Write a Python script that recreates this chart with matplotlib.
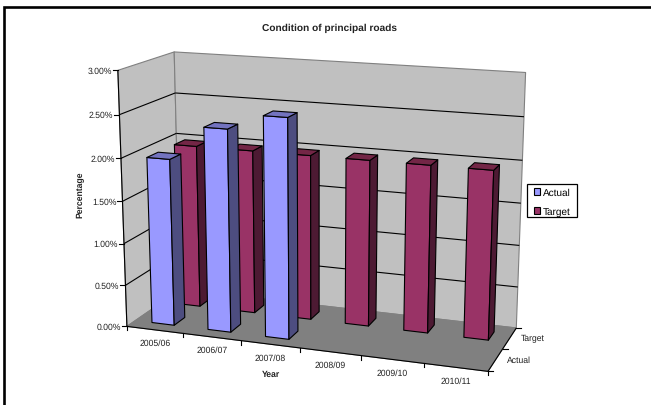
"""
Condition of principal roads, 3D column chart
"""
import matplotlib
matplotlib.use("Agg")
import matplotlib.pyplot as plt
import numpy as np
from matplotlib.patches import Patch, Polygon, Rectangle

plt.rcParams["font.family"] = ["Liberation Sans", "DejaVu Sans"]
plt.rcParams["text.hinting"] = "no_hinting"

years = ["2005/06", "2006/07", "2007/08", "2008/09", "2009/10", "2010/11"]
series_names = ["Actual", "Target"]
actual = [1.98, 2.38, 2.56]
target = [1.98, 1.98, 1.98, 1.98, 1.98, 1.98]
value_ticks = [0.0, 0.5, 1.0, 1.5, 2.0, 2.5, 3.0]

# (year axis, depth axis, value axis) -> pixel, for the chart's box corners
box_model = np.array([
    [0, 0, 3], [0, 0, 0], [0, 2, 3], [0, 2, 0], [6, 2, 3], [6, 2, 0], [6, 0, 0],
    [0, 2, 2], [6, 2, 2], [0, 0, 2], [6, 2, 1],
], dtype=float)
box_pixel = np.array([
    [117.3, 72.3], [127.3, 325.0], [174.3, 52.7], [180.0, 293.5], [526.0, 74.0],
    [516.0, 327.7], [488.3, 374.3], [176.7, 133.3], [522.3, 161.7], [120.8, 159.0],
    [519.0, 245.0],
])


def fit_projection(model, pixel):
    rows = []
    rhs = []
    for (x, y, z), (u, v) in zip(model, pixel):
        rows.append([x, y, z, 1, 0, 0, 0, 0, -u * x, -u * y, -u * z])
        rows.append([0, 0, 0, 0, x, y, z, 1, -v * x, -v * y, -v * z])
        rhs += [u, v]
    p = np.linalg.lstsq(np.array(rows), np.array(rhs), rcond=None)[0]
    return np.append(p, 1.0).reshape(3, 4)


P = fit_projection(box_model, box_pixel)


def proj(x, y, z):
    u, v, w = P @ np.array([x, y, z, 1.0])
    return u / w, v / w


def face(points, color, ec="black", lw=0.8, zorder=2):
    ax.add_patch(Polygon([proj(*p) for p in points], closed=True, facecolor=color,
                         edgecolor=ec, linewidth=lw, joinstyle="round", zorder=zorder))


def line(a, b, color="black", lw=0.8, zorder=3):
    pa, pb = proj(*a), proj(*b)
    ax.plot([pa[0], pb[0]], [pa[1], pb[1]], color=color, lw=lw, zorder=zorder,
            solid_capstyle="butt")


def bar(cat, row, value, colors, zorder):
    x0, x1 = cat + 0.3, cat + 0.7
    y0, y1 = row + 0.3, row + 0.7
    front, side, top = colors
    face([(x0, y0, 0), (x1, y0, 0), (x1, y0, value), (x0, y0, value)], front, zorder=zorder)
    face([(x1, y0, 0), (x1, y1, 0), (x1, y1, value), (x1, y0, value)], side, zorder=zorder)
    face([(x0, y0, value), (x1, y0, value), (x1, y1, value), (x0, y1, value)], top, zorder=zorder)


fig = plt.figure(figsize=(6.51, 4.06), dpi=100)
ax = fig.add_axes([0, 0, 1, 1])
ax.set_xlim(0, 651)
ax.set_ylim(406, 0)
ax.axis("off")

# 外框只有上边和左边
ax.plot([4, 4, 651], [406, 7.7, 7.7], color="black", lw=1.9, solid_joinstyle="miter", zorder=1)

wall = "#C0C0C0"
face([(0, 0, 0), (0, 2, 0), (0, 2, 3), (0, 0, 3)], wall, ec="#808080", zorder=1)
face([(0, 2, 0), (6, 2, 0), (6, 2, 3), (0, 2, 3)], wall, ec="#808080", zorder=1)
face([(0, 0, 0), (6, 0, 0), (6, 2, 0), (0, 2, 0)], "#808080", ec="#808080", zorder=1)

for v in value_ticks:
    if 0 < v < 3:
        line((0, 0, v), (0, 2, v), zorder=1.5)
        line((0, 2, v), (6, 2, v), zorder=1.5)

# axis lines
line((0, 0, 0), (0, 0, 3), zorder=1.6)
line((0, 0, 0), (6, 0, 0), zorder=1.6)
line((6, 0, 0), (6, 2, 0), zorder=1.6)

for v in value_ticks:
    u, w = proj(0, 0, v)
    ax.plot([u - 5, u], [w, w], color="black", lw=0.8, zorder=1.6)
    ax.text(u - 6, w, f"{v:.2f}%", ha="right", va="center", fontsize=6.2, color="#222222")

for i, name in enumerate(years):
    u, w = proj(i + 1, 0, 0)
    ax.plot([u, u], [w, w + 4], color="black", lw=0.8, zorder=1.6)
    u, w = proj(i + 0.5, 0, 0)
    ax.text(u, w + 13, name, ha="center", va="center", fontsize=6.2, color="#222222")
u, w = proj(0, 0, 0)
ax.plot([u, u], [w, w + 4], color="black", lw=0.8, zorder=1.6)

for j, name in enumerate(series_names):
    u, w = proj(6, j + 1, 0)
    ax.plot([u, u + 5], [w, w], color="black", lw=0.8, zorder=1.6)
    u, w = proj(6, j + 0.5, 0)
    ax.text(u + 11, w, name, ha="left", va="center", fontsize=6.2, color="#222222")
u, w = proj(6, 0, 0)
ax.plot([u, u + 5], [w, w], color="black", lw=0.8, zorder=1.6)

actual_colors = ("#9999FF", "#4D4D80", "#7373BF")
target_colors = ("#993366", "#4D1A33", "#732646")

z = 2.0
for i in range(len(target) - 1, -1, -1):
    bar(i, 1, target[i], target_colors, z)
    z += 0.01
for i in range(len(actual) - 1, -1, -1):
    bar(i, 0, actual[i], actual_colors, z)
    z += 0.01

ax.text(329.7, 28.3, "Condition of principal roads", ha="center", va="center",
        fontsize=7.3, fontweight="bold", color="#222222")
ax.text(80.5, 195, "Percentage", ha="center", va="center", rotation=90,
        fontsize=6.2, fontweight="bold", color="#222222")
ax.text(271, 375, "Year", ha="center", va="center", fontsize=6.2, fontweight="bold",
        color="#222222")

# legend frame drawn apart so it can be tighter than the legend's own padding
ax.add_patch(Rectangle((527, 185), 50, 32.7, facecolor="white", edgecolor="black", lw=0.9, zorder=4))
handles = [Patch(facecolor=actual_colors[0], edgecolor="black", lw=0.8),
           Patch(facecolor=target_colors[0], edgecolor="black", lw=0.8)]
leg = ax.legend(handles, series_names, loc="upper left", bbox_to_anchor=(533.5, 189),
                bbox_transform=ax.transData, fontsize=7.2, frameon=False, borderpad=0,
                borderaxespad=0, handlelength=0.65, handleheight=0.65, handletextpad=0.3,
                labelspacing=0.92)
leg.set_zorder(5)

fig.savefig("out.png", dpi=100)
